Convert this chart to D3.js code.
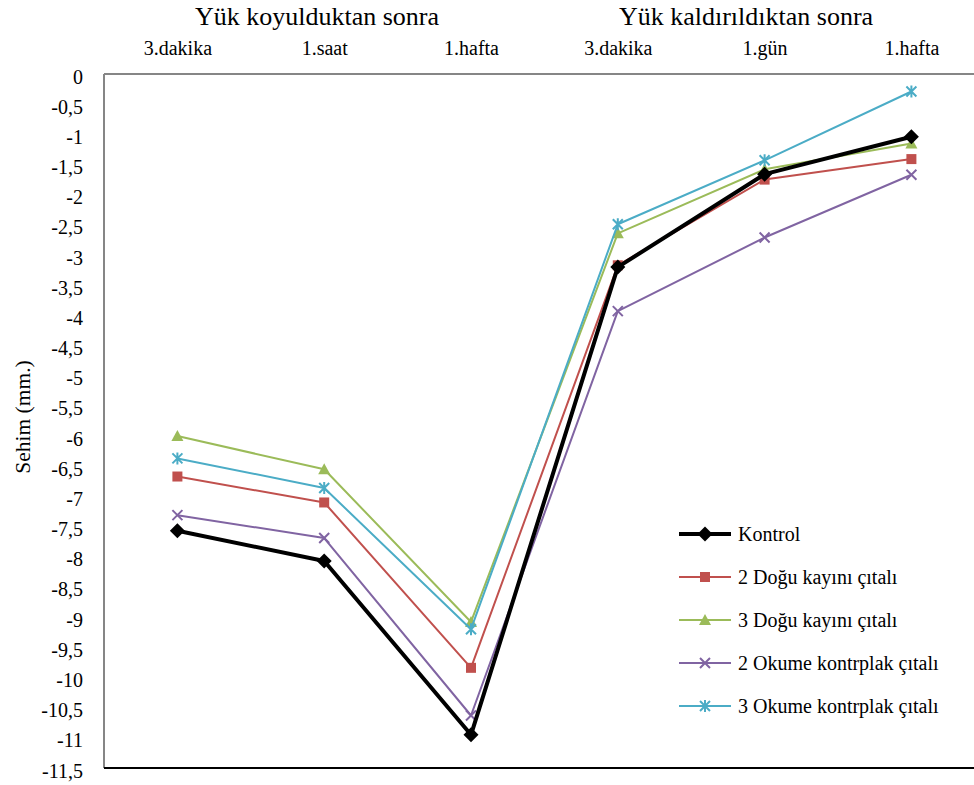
<!DOCTYPE html>
<html>
<head>
<meta charset="utf-8">
<script src="https://cdn.jsdelivr.net/npm/d3@7"></script>
<style>
  html, body { margin: 0; padding: 0; background: #fff; }
  svg { display: block; }
  svg text { font-family: "Liberation Serif", "Times New Roman", Times, "DejaVu Serif", serif !important; fill: #000; }
</style>
</head>
<body>
<svg id="chart" width="974" height="785"></svg>
<script>
const categories = ["3.dakika", "1.saat", "1.hafta", "3.dakika ", "1.gün", "1.hafta "];
const categoryLabels = ["3.dakika", "1.saat", "1.hafta", "3.dakika", "1.gün", "1.hafta"];
const groupTitles = ["Yük koyulduktan sonra", "Yük kaldırıldıktan sonra"];
const seriesNames = ["Kontrol", "2 Doğu kayını çıtalı", "3 Doğu kayını çıtalı", "2 Okume kontrplak çıtalı", "3 Okume kontrplak çıtalı"];
const kontrol = [-7.57, -8.07, -10.95, -3.20, -1.66, -1.04];
const dogu2 = [-6.67, -7.10, -9.84, -3.17, -1.75, -1.41];
const dogu3 = [-6.00, -6.55, -9.08, -2.64, -1.58, -1.15];
const okume2 = [-7.31, -7.69, -10.63, -3.93, -2.71, -1.67];
const okume3 = [-6.37, -6.86, -9.20, -2.49, -1.43, -0.29];
const yTicks = d3.range(0, -11.51, -0.5).map(v => Math.round(v * 10) / 10);

const seriesValues = [kontrol, dogu2, dogu3, okume2, okume3];
const colors = ["#000000", "#C0504D", "#9BBB59", "#8064A2", "#4BACC6"];
const widths = [4, 2, 2, 2, 2];
const markers = ["diamond", "square", "triangle", "x", "asterisk"];

const svg = d3.select("#chart");
const plotLeft = 104, plotTop = 74, plotBottom = 768, step = 146.8;
const x = d3.scalePoint().domain(categories).range([plotLeft + step / 2, plotLeft + step * 5.5]);
const y = d3.scaleLinear().domain([0, -11.5]).range([plotTop, plotBottom]);

// frame lines
svg.append("line").attr("x1", plotLeft).attr("x2", 974).attr("y1", plotTop).attr("y2", plotTop)
  .attr("stroke", "#868686").attr("stroke-width", 2);
svg.append("line").attr("x1", plotLeft).attr("x2", plotLeft).attr("y1", plotTop).attr("y2", plotBottom)
  .attr("stroke", "#868686").attr("stroke-width", 2);
svg.append("line").attr("x1", plotLeft).attr("x2", 974).attr("y1", plotBottom).attr("y2", plotBottom)
  .attr("stroke", "#000").attr("stroke-width", 2);

// y axis labels
const yAxis = d3.axisLeft(y).tickValues(yTicks).tickSize(0).tickPadding(21)
  .tickFormat(d => String(d).replace(".", ","));
const gy = svg.append("g").attr("transform", `translate(${plotLeft},0)`).call(yAxis);
gy.attr("font-family", null);
gy.select(".domain").remove();
gy.selectAll("text").attr("font-size", 20).attr("dy", "0.45em").attr("fill", "#000");

// top category axis
const xAxis = d3.axisTop(x).tickSize(0).tickPadding(19).tickFormat((d, i) => categoryLabels[i]);
const gx = svg.append("g").attr("transform", `translate(0,${plotTop})`).call(xAxis);
gx.attr("font-family", null);
gx.select(".domain").remove();
gx.selectAll("text").attr("font-size", 20).attr("fill", "#000");

// group titles
svg.append("text").attr("x", 317).attr("y", 25).attr("text-anchor", "middle").attr("font-size", 26).text(groupTitles[0]);
svg.append("text").attr("x", 746).attr("y", 25).attr("text-anchor", "middle").attr("font-size", 26).text(groupTitles[1]);

// y title
svg.append("text").attr("transform", "translate(30,417) rotate(-90)").attr("text-anchor", "middle")
  .attr("font-size", 21.5).text("Sehim (mm.)");

function drawMarker(g, type, color, cx, cy) {
  if (type === "diamond") {
    const s = 7.5;
    g.append("path").attr("d", `M${cx},${cy - s}L${cx + s},${cy}L${cx},${cy + s}L${cx - s},${cy}Z`).attr("fill", color);
  } else if (type === "square") {
    g.append("rect").attr("x", cx - 5).attr("y", cy - 5).attr("width", 10).attr("height", 10).attr("fill", color);
  } else if (type === "triangle") {
    g.append("path").attr("d", `M${cx},${cy - 6}L${cx + 6},${cy + 5}L${cx - 6},${cy + 5}Z`).attr("fill", color);
  } else if (type === "x") {
    const s = 5;
    g.append("path").attr("d", `M${cx - s},${cy - s}L${cx + s},${cy + s}M${cx - s},${cy + s}L${cx + s},${cy - s}`)
      .attr("stroke", color).attr("stroke-width", 2);
  } else if (type === "asterisk") {
    const s = 5;
    g.append("path").attr("d", `M${cx - s},${cy - s}L${cx + s},${cy + s}M${cx - s},${cy + s}L${cx + s},${cy - s}M${cx},${cy - s - 1}L${cx},${cy + s + 1}`)
      .attr("stroke", color).attr("stroke-width", 2);
  }
}

const line = d3.line().x((d, i) => x(categories[i])).y(d => y(d));
const order = [1, 2, 3, 4, 0];
order.forEach(si => {
  const g = svg.append("g");
  g.append("path").datum(seriesValues[si]).attr("d", line).attr("fill", "none")
    .attr("stroke", colors[si]).attr("stroke-width", widths[si]).attr("stroke-linejoin", "round");
  seriesValues[si].forEach((v, i) => drawMarker(g, markers[si], colors[si], x(categories[i]), y(v)));
});

// legend
const legendY = [534, 577, 620, 663, 706];
seriesNames.forEach((name, si) => {
  const g = svg.append("g");
  const ly = legendY[si];
  g.append("line").attr("x1", 679).attr("x2", 731).attr("y1", ly).attr("y2", ly)
    .attr("stroke", colors[si]).attr("stroke-width", widths[si]);
  drawMarker(g, markers[si], colors[si], 705, ly);
  g.append("text").attr("x", 738).attr("y", ly).attr("dy", "0.33em").attr("font-size", 20).text(name);
});
</script>
</body>
</html>
